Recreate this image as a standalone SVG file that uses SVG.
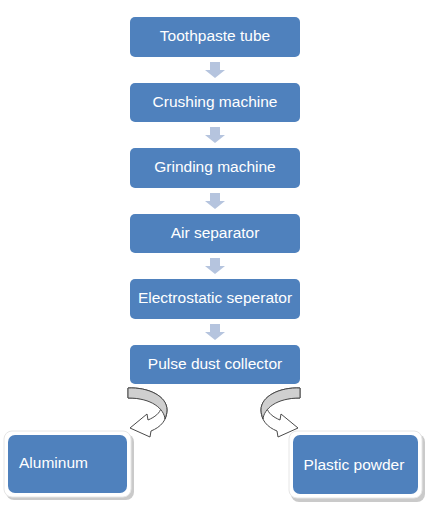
<svg xmlns="http://www.w3.org/2000/svg" width="427" height="508" viewBox="0 0 427 508">
<defs>
<style>
.box{fill:#4f81bd}
.lbl{fill:#ffffff;font-family:"Liberation Sans",Arial,sans-serif;font-size:15.5px}
.mid{text-anchor:middle}
.down{fill:#b5c4de}
.shadow{fill:#a6a6a6;opacity:0.6}
.frame{fill:#ffffff;stroke:#e6e6e6;stroke-width:1}
.ribbon{fill:#ffffff;stroke:#4a4a4a;stroke-width:1;stroke-linejoin:round}
.ribbonTop{fill:#cfcfcf;stroke:#4a4a4a;stroke-width:1;stroke-linejoin:round}
</style>
<path id="dn" d="M-5,0 H5 V8 H10 L0,16 L-10,8 H-5 Z"/>
<g id="curl">
<path class="ribbon" d="M128,388 C148,387 167,396 167,410 C167,420 161,427 151,431 L150,437 L130,428 L147,414 L148,420 C155,417 160,413 161,408 C158,402 145,398 128,398 Z"/>
<path class="ribbonTop" d="M128,388 C148,387 167,396 167,410 C167,413 166,416 165,419 C164,409 152,398 128,398 Z"/>
</g>
</defs>
<rect width="427" height="508" fill="#ffffff"/>
<g id="connectors">
<use href="#dn" class="down" x="215" y="62"/>
<use href="#dn" class="down" x="215" y="127"/>
<use href="#dn" class="down" x="215" y="193"/>
<use href="#dn" class="down" x="215" y="258"/>
<use href="#dn" class="down" x="215" y="324"/>
<use href="#curl"/>
<use href="#curl" transform="translate(428,0) scale(-1,1)"/>
</g>
<g id="n1"><rect class="box" x="130" y="17" width="170" height="40" rx="5"/><text class="lbl mid" x="215" y="41">Toothpaste tube</text></g>
<g id="n2"><rect class="box" x="130" y="83" width="170" height="39" rx="5"/><text class="lbl mid" x="215" y="107">Crushing machine</text></g>
<g id="n3"><rect class="box" x="130" y="148" width="170" height="40" rx="5"/><text class="lbl mid" x="215" y="172">Grinding machine</text></g>
<g id="n4"><rect class="box" x="130" y="214" width="170" height="39" rx="5"/><text class="lbl mid" x="215" y="238">Air separator</text></g>
<g id="n5"><rect class="box" x="130" y="279" width="170" height="40" rx="5"/><text class="lbl mid" x="215" y="303">Electrostatic seperator</text></g>
<g id="n6"><rect class="box" x="130" y="345" width="170" height="39" rx="5"/><text class="lbl mid" x="215" y="369">Pulse dust collector</text></g>
<g id="n7">
<rect class="shadow" x="6" y="434" width="128" height="66" rx="8"/>
<rect class="frame" x="4" y="431" width="127" height="66" rx="8"/>
<rect class="box" x="8" y="435" width="119" height="58" rx="7"/>
<text class="lbl" x="19" y="468">Aluminum</text>
</g>
<g id="n8">
<rect class="shadow" x="291" y="434" width="134" height="68" rx="8"/>
<rect class="frame" x="289" y="431" width="133" height="67" rx="8"/>
<rect class="box" x="293" y="435" width="125" height="59" rx="7"/>
<text class="lbl mid" x="354" y="470">Plastic powder</text>
</g>
</svg>
